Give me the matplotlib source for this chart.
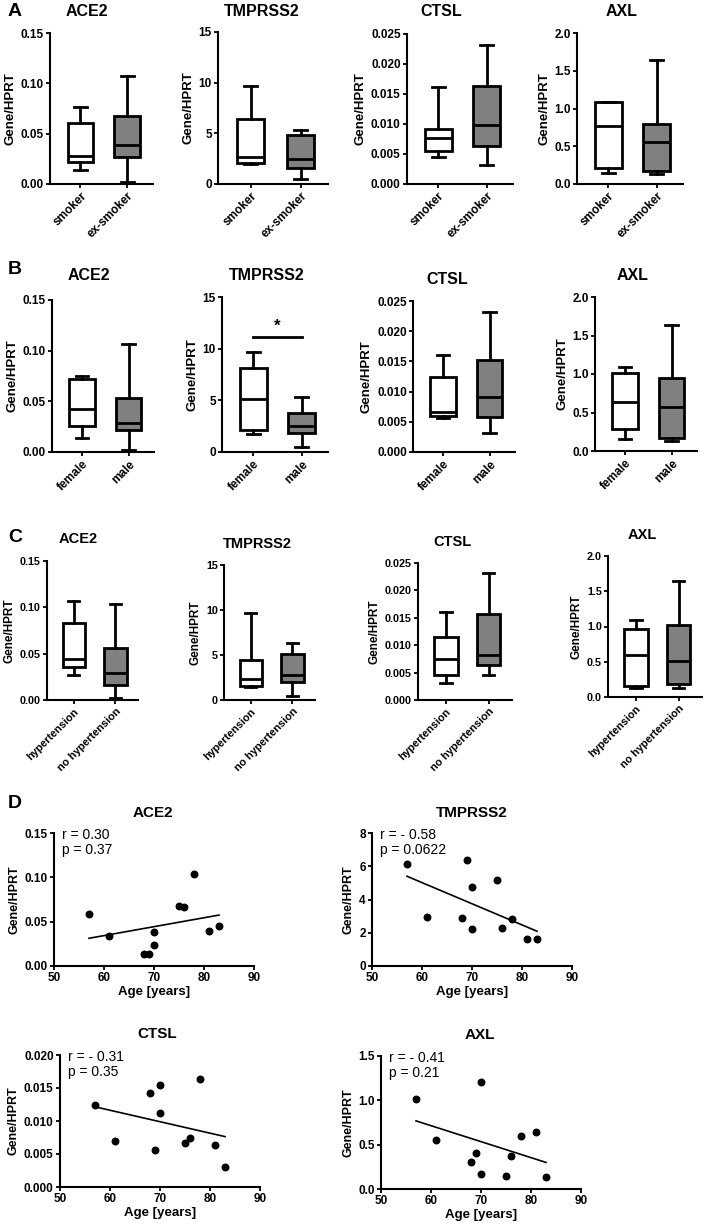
import numpy as np
import matplotlib
matplotlib.use("Agg")
import matplotlib.pyplot as plt
from matplotlib.ticker import FormatStrFormatter

plt.rcParams['font.family'] = ['Liberation Sans', 'DejaVu Sans']

# ---- data ---------------------------------------------------------------
# five-number summaries per group: [whisker low, Q1, median, Q3, whisker high]
smoking_groups = ["smoker", "ex-smoker"]
a_ace2 = [[0.014, 0.022, 0.028, 0.061, 0.076], [0.002, 0.027, 0.039, 0.068, 0.107]]
a_tmprss2 = [[2.0, 2.1, 2.7, 6.4, 9.7], [0.5, 1.6, 2.5, 4.8, 5.3]]
a_ctsl = [[0.0045, 0.0055, 0.0077, 0.0091, 0.0161], [0.0031, 0.0063, 0.0099, 0.0163, 0.0231]]
a_axl = [[0.14, 0.21, 0.77, 1.09, 1.09], [0.13, 0.17, 0.56, 0.80, 1.64]]

sex_groups = ["female", "male"]
b_ace2 = [[0.014, 0.026, 0.042, 0.072, 0.075], [0.002, 0.022, 0.029, 0.053, 0.107]]
b_tmprss2 = [[1.7, 2.1, 5.1, 8.1, 9.7], [0.5, 1.8, 2.5, 3.8, 5.3]]
b_ctsl = [[0.0056, 0.0060, 0.0066, 0.0124, 0.0161], [0.0031, 0.0058, 0.0091, 0.0153, 0.0231]]
b_axl = [[0.15, 0.28, 0.64, 1.01, 1.09], [0.13, 0.17, 0.57, 0.95, 1.64]]
b_tmprss2_sig = 11.1

htn_groups = ["hypertension", "no hypertension"]
c_ace2 = [[0.027, 0.036, 0.044, 0.083, 0.107], [0.002, 0.016, 0.029, 0.056, 0.104]]
c_tmprss2 = [[1.5, 1.6, 2.3, 4.4, 9.7], [0.5, 2.0, 2.8, 5.1, 6.3]]
c_ctsl = [[0.0031, 0.0046, 0.0075, 0.0115, 0.0161], [0.0045, 0.0064, 0.0083, 0.0157, 0.0231]]
c_axl = [[0.13, 0.16, 0.60, 0.97, 1.09], [0.13, 0.18, 0.51, 1.02, 1.64]]

age = [57, 61, 68, 69, 70, 70, 75, 76, 78, 81, 83]
d_ace2 = [0.059, 0.034, 0.014, 0.014, 0.024, 0.038, 0.068, 0.067, 0.104, 0.039, 0.045]
d_tmprss2 = [6.15, 2.95, 2.9, 6.4, 4.75, 2.25, 5.15, 2.3, 2.8, 1.65, 1.6]
d_ctsl = [0.0124, 0.0069, 0.0142, 0.0056, 0.0155, 0.0112, 0.0066, 0.0075, 0.0163, 0.0064, 0.0031]
d_axl = [1.01, 0.55, 0.30, 0.41, 1.21, 0.17, 0.15, 0.37, 0.60, 0.64, 0.14]
d_stats = ["r = 0.30\np = 0.37", "r = - 0.58\np = 0.0622",
           "r = - 0.31\np = 0.35", "r = - 0.41\np = 0.21"]

# ---- layout helpers -----------------------------------------------------
W, H = 708, 1224
fig = plt.figure(figsize=(W / 100, H / 100), dpi=100)
LW = 2.0


def add_ax(l, t, r, b):
    return fig.add_axes([l / W, 1 - b / H, (r - l) / W, (b - t) / H])


def style_axes(ax, size=8.5):
    for s in ("top", "right"):
        ax.spines[s].set_visible(False)
    for s in ("left", "bottom"):
        ax.spines[s].set_linewidth(1.5)
    ax.tick_params(width=1.3, length=3, labelsize=size, pad=1.5)
    for lab in ax.get_yticklabels() + ax.get_xticklabels():
        lab.set_fontweight("bold")


def fig_text(x, y, s, size=11.5, weight="bold", ha="center"):
    fig.text(x / W, 1 - y / H, s, ha=ha, va="center", fontsize=size, fontweight=weight)


def box_panel(rect, summaries, groups, ymax, ystep, fmt, title, tpos, small=False):
    ax = add_ax(*rect)
    stats = []
    for s, g in zip(summaries, groups):
        stats.append(dict(whislo=s[0], q1=s[1], med=s[2], q3=s[3], whishi=s[4], label=g))
    res = ax.bxp(stats, positions=[1, 2], widths=0.55, capwidths=0.27, patch_artist=True,
                 showfliers=False,
                 boxprops=dict(linewidth=LW, edgecolor="black"),
                 whiskerprops=dict(linewidth=LW, color="black"),
                 capprops=dict(linewidth=LW, color="black"),
                 medianprops=dict(linewidth=LW, color="black"))
    for patch, fc in zip(res["boxes"], ["white", "#808080"]):
        patch.set_facecolor(fc)
    ax.set_xlim(0.35, 2.55)
    ax.set_ylim(0, ymax)
    ax.set_yticks(np.arange(0, ymax + ystep / 2, ystep))
    ax.yaxis.set_major_formatter(FormatStrFormatter(fmt))
    ax.set_xticks([1, 2])
    ax.set_xticklabels(groups, rotation=45, ha="right", rotation_mode="anchor")
    ax.set_ylabel("Gene/HPRT", fontsize=8.5 if small else 9.5, fontweight="bold", labelpad=3)
    style_axes(ax, size=7.8 if small else 8.5)
    fig_text(tpos[0], tpos[1], title, size=10.5 if small else 11.5)
    return ax


def scatter_panel(rect, vals, ymax, ystep, fmt, title, tpos, txt):
    ax = add_ax(*rect)
    ax.scatter(age, vals, s=22, color="black", zorder=3, clip_on=False)
    k, c = np.polyfit(age, vals, 1)
    xs = np.array([min(age), max(age)])
    ax.plot(xs, k * xs + c, color="black", lw=1.2)
    ax.set_xlim(50, 90)
    ax.set_xticks(range(50, 91, 10))
    ax.set_ylim(0, ymax)
    ax.set_yticks(np.arange(0, ymax + ystep / 2, ystep))
    ax.yaxis.set_major_formatter(FormatStrFormatter(fmt))
    ax.set_ylabel("Gene/HPRT", fontsize=9, fontweight="bold", labelpad=3)
    ax.set_xlabel("Age [years]", fontsize=9.5, fontweight="bold", labelpad=1)
    ax.text(0.04, 1.04, txt, transform=ax.transAxes, ha="left", va="top",
            fontsize=10, linespacing=1.1)
    style_axes(ax, size=8.5)
    fig_text(tpos[0], tpos[1], title, size=11)
    return ax


# ---- panel A: smoking ---------------------------------------------------
box_panel((50, 33, 153, 184), a_ace2, smoking_groups, 0.15, 0.05, "%.2f", "ACE2", (87, 12))
box_panel((218, 32, 328, 184), a_tmprss2, smoking_groups, 15, 5, "%d", "TMPRSS2", (262, 12))
box_panel((407, 34, 513, 184), a_ctsl, smoking_groups, 0.025, 0.005, "%.3f", "CTSL", (441, 12))
box_panel((577, 33, 683, 184), a_axl, smoking_groups, 2.0, 0.5, "%.1f", "AXL", (622, 12))

# ---- panel B: sex -------------------------------------------------------
box_panel((52, 300, 154, 452), b_ace2, sex_groups, 0.15, 0.05, "%.2f", "ACE2", (89, 276))
ax_b2 = box_panel((222, 297, 328, 452), b_tmprss2, sex_groups, 15, 5, "%d", "TMPRSS2", (267, 276))
ax_b2.plot([1, 2], [b_tmprss2_sig, b_tmprss2_sig], color="black", lw=LW)
ax_b2.text(1.5, b_tmprss2_sig + 0.3, "*", ha="center", va="bottom", fontsize=12, fontweight="bold")
box_panel((413, 301, 515, 452), b_ctsl, sex_groups, 0.025, 0.005, "%.3f", "CTSL", (447, 280))
box_panel((595, 297, 697, 451), b_axl, sex_groups, 2.0, 0.5, "%.1f", "AXL", (633, 276))

# ---- panel C: hypertension ----------------------------------------------
box_panel((47, 561, 138, 700), c_ace2, htn_groups, 0.15, 0.05, "%.2f", "ACE2", (78, 539), True)
box_panel((224, 565, 315, 700), c_tmprss2, htn_groups, 15, 5, "%d", "TMPRSS2", (257, 544), True)
box_panel((418, 563, 512, 700), c_ctsl, htn_groups, 0.025, 0.005, "%.3f", "CTSL", (452, 542), True)
box_panel((608, 556, 702, 697), c_axl, htn_groups, 2.0, 0.5, "%.1f", "AXL", (642, 535), True)

# ---- panel D: age correlation -------------------------------------------
scatter_panel((54, 833, 254, 966), d_ace2, 0.15, 0.05, "%.2f", "ACE2", (153, 813), d_stats[0])
scatter_panel((372, 833, 572, 966), d_tmprss2, 8, 2, "%d", "TMPRSS2", (472, 813), d_stats[1])
scatter_panel((60, 1055, 260, 1187), d_ctsl, 0.020, 0.005, "%.3f", "CTSL", (157, 1034), d_stats[2])
scatter_panel((381, 1056, 581, 1189), d_axl, 1.5, 0.5, "%.1f", "AXL", (480, 1035), d_stats[3])

for letter, y in [("A", 12), ("B", 270), ("C", 537), ("D", 804)]:
    fig_text(8, y, letter, size=14, ha="left")

fig.savefig("out.png", dpi=100)
